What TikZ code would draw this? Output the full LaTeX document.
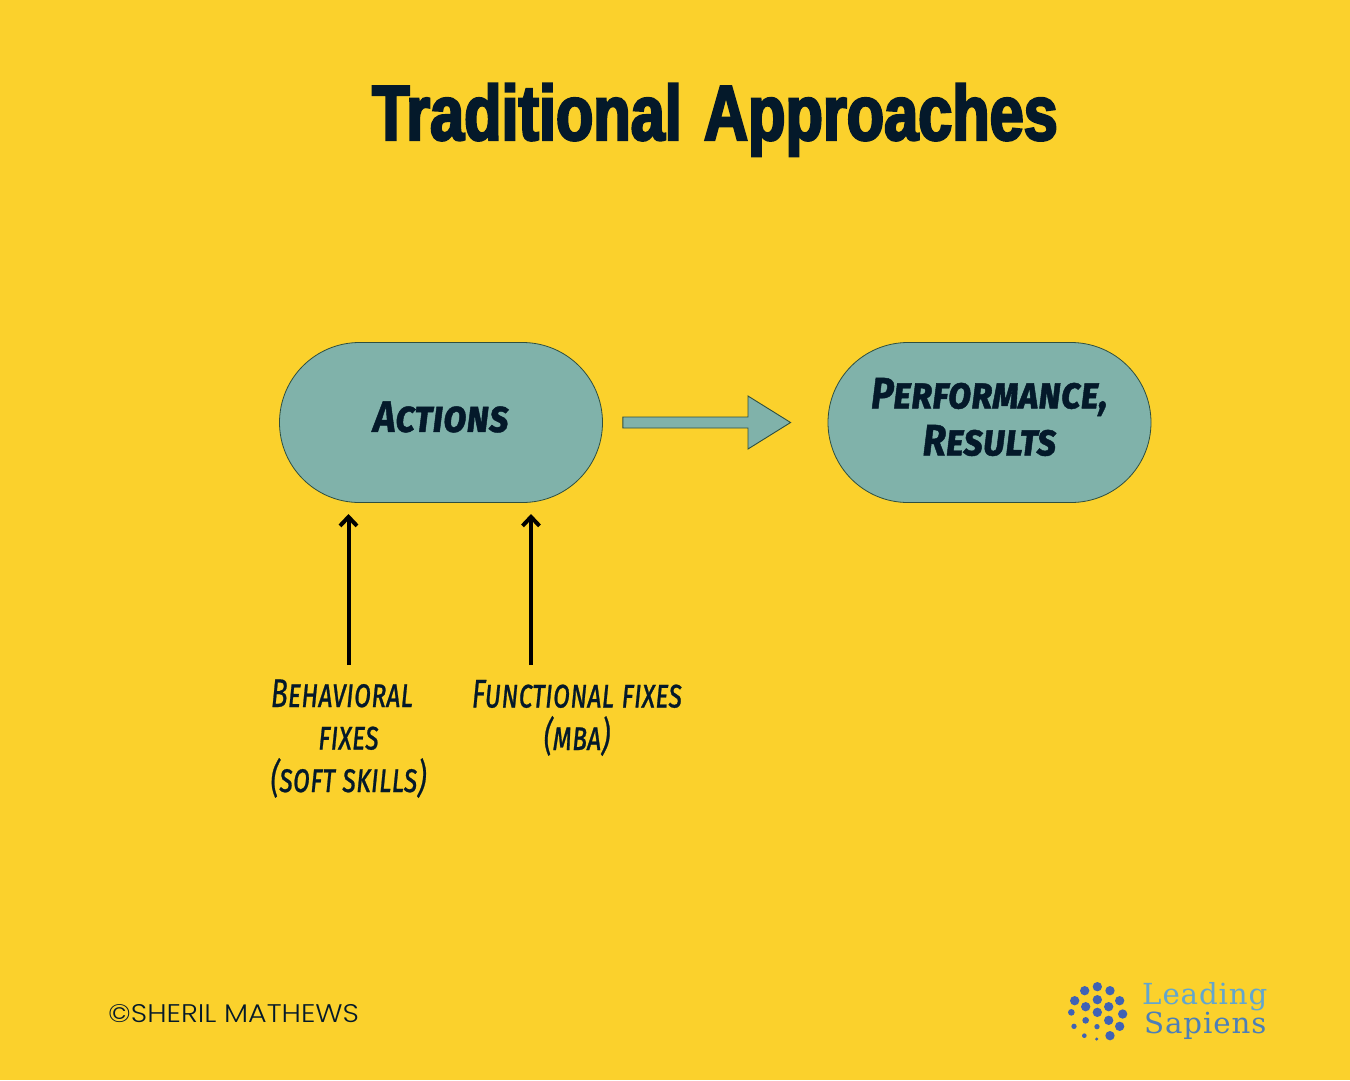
\documentclass[tikz,border=0pt]{standalone}
\usepackage{fontspec}
\setmainfont{Liberation Sans}
\newfontfamily\titlefont[FakeStretch=0.785,FakeBold=3,WordSpace=1.3]{Liberation Sans Bold}
\newfontfamily\handfont[FakeStretch=0.70,FakeBold=0.6,Letters=SmallCaps,Ligatures=NoCommon]{Fira Sans Italic}
\newfontfamily\handbold[FakeStretch=0.87,Letters=SmallCaps,FakeBold=1]{Fira Sans Bold Italic}
\newfontfamily\footfont[FakeStretch=1.12]{Poppins Light}
\newfontfamily\logofont[FakeStretch=1.01,LetterSpace=3]{DejaVu Serif}
\definecolor{bgyellow}{HTML}{FBD12C}
\definecolor{teal}{HTML}{80B2AA}
\definecolor{edgedark}{HTML}{2F4F3F}
\definecolor{ink}{HTML}{04192A}
\definecolor{dotblue}{HTML}{3F62B5}
\definecolor{logolight}{HTML}{62A6CF}
\definecolor{logodark}{HTML}{4C7FB8}
\tikzset{
  pill/.style={draw=edgedark,line width=0.8pt,fill=teal,rounded rectangle,minimum width=323pt,minimum height=160pt,inner sep=0pt,align=center,text=ink,font=\handbold\fontsize{44}{47}\selectfont},
  pilltext/.style={inner sep=0pt,align=center,text=ink,font=\handbold\fontsize{44}{47}\selectfont},
  lab/.style={align=center,text=ink,inner sep=0pt,font=\handfont\fontsize{40}{42.5}\selectfont},
  up/.style={draw=black,line width=4pt,-{Straight Barb[length=9pt,width=17pt,line width=4pt]}},
  flow/.style={draw=edgedark,line width=0.9pt,fill=teal,line join=miter},
  dot/.style={fill=dotblue,draw=none,circle,inner sep=0pt}
}
\usetikzlibrary{shapes.misc,arrows.meta,calc}
\begin{document}
\begin{tikzpicture}[x=1pt,y=-1pt]
\useasboundingbox (0,0) rectangle (1350,1080);
\fill[bgyellow] (0,0) rectangle (1350,1080);
\node[inner sep=0pt,text=ink,anchor=base,font=\titlefont\fontsize{78}{80}\selectfont] (title) at (715,140) {Traditional Approaches};
\node[pill] (actions) at (441,422.5) {};
\node[pilltext] (actionstext) at (441,417) {Actions};
\node[pill] (results) at (989.5,422.5) {};
\node[pilltext] (resultstext) at (989.5,417) {Performance,\\Results};
\coordinate (shaftstart) at ($(actions.east)+(20,0)$);
\coordinate (tip) at ($(results.west)+(-37,0)$);
\draw[flow] ($(shaftstart)+(0,-5.5)$) -- (748,417) -- (748,396) -- (tip) -- (748,449) -- (748,428) -- ($(shaftstart)+(0,5.5)$) -- cycle;
\node[lab,anchor=base] (behav) at (348.5,792) {Behavioral\hspace*{13pt}\\fixes\\(soft skills)};
\node[lab,anchor=base] (func) at (577,750) {Functional fixes\\(mba)};
\coordinate (a1) at (348.5,665);
\coordinate (b1) at (348.5,514);
\coordinate (a2) at (531,665);
\coordinate (b2) at (531,514);
\draw[up] (a1) -- (b1);
\draw[up] (a2) -- (b2);
\node[inner sep=0pt,anchor=base west,text=ink,font=\footfont\fontsize{25.5}{27}\selectfont] (foot) at (108,1022) {©SHERIL MATHEWS};
\node[inner sep=0pt,anchor=base west,align=left,font=\logofont\fontsize{29}{26}\selectfont] (logo) at (1142,1033) {\textcolor{logolight}{Leading}\\\hspace*{2pt}\textcolor{logodark}{Sapiens}};
\foreach \i/\zx/\zy/\zr in {1/142/50/14,2/104/62/14,3/180/62/14,4/74/92/14,5/209/92/14,6/142/89/14,7/107/110/14,8/176/110/14,9/64/127/10,10/218/132/14,11/142/127/14,12/107/151/10,13/176/151/14,14/72/169/8,15/209/169/14,16/141/170/8,17/103/197/7,18/140/207/5,19/180/197/14}
  \node[dot,minimum size=\zr*2/3*1pt] (d\i) at ({1050+\zx/3},{970+\zy/3}) {};
\end{tikzpicture}
\end{document}
